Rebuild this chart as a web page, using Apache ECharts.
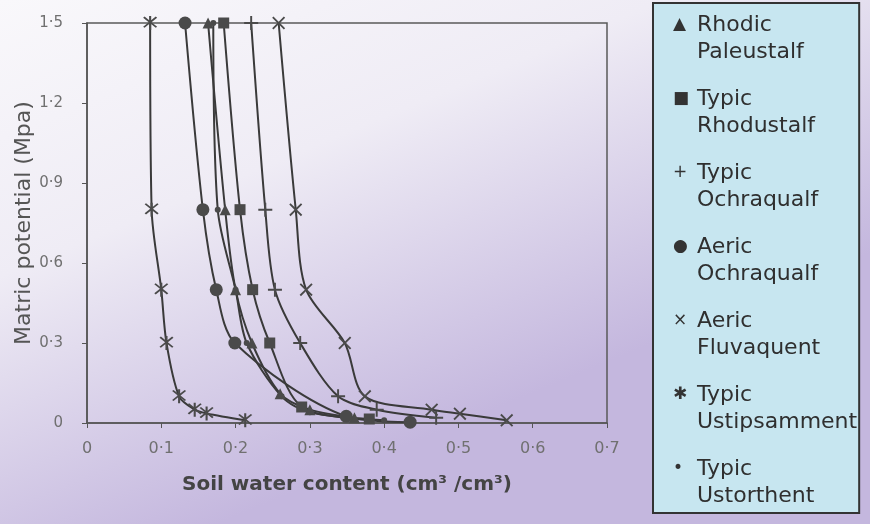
<!DOCTYPE html>
<html>
<head>
<meta charset="utf-8">
<script src="https://cdn.jsdelivr.net/npm/echarts@6/dist/echarts.min.js"></script>
<style>
  html, body { margin: 0; padding: 0; }
  #chart { width: 870px; height: 524px; }
</style>
</head>
<body>
<div id="chart"></div>
<script>
// Soil water content (cm3/cm3) against matric potential (MPa) for seven soils
const seriesNames = [
  'Rhodic\nPaleustalf',
  'Typic\nRhodustalf',
  'Typic\nOchraqualf',
  'Aeric\nOchraqualf',
  'Aeric\nFluvaquent',
  'Typic\nUstipsamment',
  'Typic\nUstorthent'
];
const legendGlyphs = ['▲', '■', '+', '●', '×', '✱', '•'];

const rhodicPaleustalf  = [[0.163, 1.5], [0.186, 0.8], [0.200, 0.5], [0.222, 0.3], [0.260, 0.11], [0.300, 0.05], [0.360, 0.02]];
const typicRhodustalf   = [[0.184, 1.5], [0.206, 0.8], [0.223, 0.5], [0.246, 0.3], [0.289, 0.06], [0.380, 0.015]];
const typicOchraqualf   = [[0.221, 1.5], [0.240, 0.8], [0.253, 0.5], [0.287, 0.3], [0.338, 0.1], [0.390, 0.05], [0.470, 0.02]];
const aericOchraqualf   = [[0.132, 1.5], [0.156, 0.8], [0.174, 0.5], [0.199, 0.3], [0.349, 0.025], [0.435, 0.003]];
const aericFluvaquent   = [[0.258, 1.5], [0.281, 0.8], [0.295, 0.5], [0.347, 0.3], [0.374, 0.1], [0.464, 0.05], [0.502, 0.035], [0.565, 0.01]];
const typicUstipsamment = [[0.085, 1.5], [0.087, 0.8], [0.100, 0.5], [0.107, 0.3], [0.124, 0.1], [0.145, 0.05], [0.161, 0.036], [0.213, 0.01]];
const typicUstorthent   = [[0.170, 1.5], [0.176, 0.8], [0.200, 0.5], [0.215, 0.3], [0.262, 0.1], [0.300, 0.04], [0.400, 0.01]];

const xTickValues = [0, 0.1, 0.2, 0.3, 0.4, 0.5, 0.6, 0.7];
const yTickValues = [0, 0.3, 0.6, 0.9, 1.2, 1.5];

const PLUS = 'path://M4.3,0H5.7V4.3H10V5.7H5.7V10H4.3V5.7H0V4.3H4.3Z';
const CROSS = 'path://M1,0L5,4L9,0L10,1L6,5L10,9L9,10L5,6L1,10L0,9L4,5L0,1Z';
const STAR = 'path://M4.4,0H5.6V10H4.4Z M1,1.2L1.8,0.4L5,3.6L8.2,0.4L9,1.2L5.8,4.4L9,7.6L8.2,8.4L5,5.2L1.8,8.4L1,7.6L4.2,4.4Z';

const markerStyles = [
  { symbol: 'triangle', size: 11 },
  { symbol: 'rect', size: 11 },
  { symbol: PLUS, size: 14 },
  { symbol: 'circle', size: 13 },
  { symbol: CROSS, size: 13 },
  { symbol: STAR, size: 14 },
  { symbol: 'circle', size: 6 }
];
const seriesData = [rhodicPaleustalf, typicRhodustalf, typicOchraqualf, aericOchraqualf,
                    aericFluvaquent, typicUstipsamment, typicUstorthent];

const dotLabel = v => (v === 0 ? '0' : v.toFixed(1).replace('.', '·'));
const ink = '#3a3a3a';

const chart = echarts.init(document.getElementById('chart'));
chart.setOption({
  animation: false,
  backgroundColor: {
    type: 'linear', x: 0, y: 0, x2: 0.25, y2: 1,
    colorStops: [
      { offset: 0, color: '#f9f8fb' },
      { offset: 0.45, color: '#efecf5' },
      { offset: 1, color: '#c4b7de' }
    ]
  },
  grid: {
    left: 87, right: 263, top: 23, bottom: 101,
    outerBoundsMode: 'none', containLabel: false,
    show: true, borderColor: '#5a5a5a', borderWidth: 1.5, backgroundColor: 'transparent'
  },
  xAxis: {
    type: 'value', min: 0, max: 0.7, interval: 0.1,
    name: 'Soil water content (cm³ /cm³)',
    nameLocation: 'middle', nameGap: 52, nameMoveOverlap: false,
    nameTextStyle: { fontFamily: 'DejaVu Sans', fontSize: 20, fontWeight: 'bold', color: '#444' },
    axisLine: { lineStyle: { color: '#555', width: 1.5 } },
    axisTick: { show: true, length: 5, lineStyle: { color: '#555' } },
    axisLabel: { fontFamily: 'DejaVu Sans', fontSize: 16, color: '#707070', margin: 18, formatter: dotLabel },
    splitLine: { show: false }
  },
  yAxis: {
    type: 'value', min: 0, max: 1.5, interval: 0.3,
    name: 'Matric potential (Mpa)',
    nameLocation: 'middle', nameGap: 52, nameRotate: 90, nameMoveOverlap: false,
    nameTextStyle: { fontFamily: 'DejaVu Sans', fontSize: 22, color: '#555' },
    axisLine: { show: true, lineStyle: { color: '#555', width: 1.5 } },
    axisTick: { show: true, length: 5, lineStyle: { color: '#555' } },
    axisLabel: { fontFamily: 'DejaVu Sans', fontSize: 15, color: '#707070', margin: 24, formatter: dotLabel },
    splitLine: { show: false }
  },
  legend: {
    orient: 'vertical', left: 653, top: 3, width: 212, height: 517,
    backgroundColor: '#c7e6f0', borderColor: '#333', borderWidth: 2,
    padding: [11, 2, 6, 14], itemGap: 25,
    itemWidth: 1, itemHeight: 1, itemStyle: { opacity: 0 },
    icon: 'circle',
    data: seriesNames,
    formatter: name => {
      const g = legendGlyphs[seriesNames.indexOf(name)];
      const parts = name.split('\n');
      return '{g|' + g + '}{t|' + parts[0] + '}\n{g| }{t|' + parts[1] + '}';
    },
    textStyle: {
      rich: {
        g: { width: 24, fontSize: 17, color: '#333', fontFamily: 'DejaVu Sans', lineHeight: 27 },
        t: { fontSize: 22, color: '#2f2f2f', fontFamily: 'DejaVu Sans', lineHeight: 27 }
      }
    }
  },
  series: seriesData.map((d, i) => ({
    name: seriesNames[i],
    type: 'line',
    data: d,
    smooth: 0.3,
    symbol: markerStyles[i].symbol,
    symbolSize: markerStyles[i].size,
    showAllSymbol: true,
    lineStyle: { color: ink, width: 2 },
    itemStyle: { color: '#4a4a4a', borderWidth: 0 }
  }))
});
</script>
</body>
</html>
